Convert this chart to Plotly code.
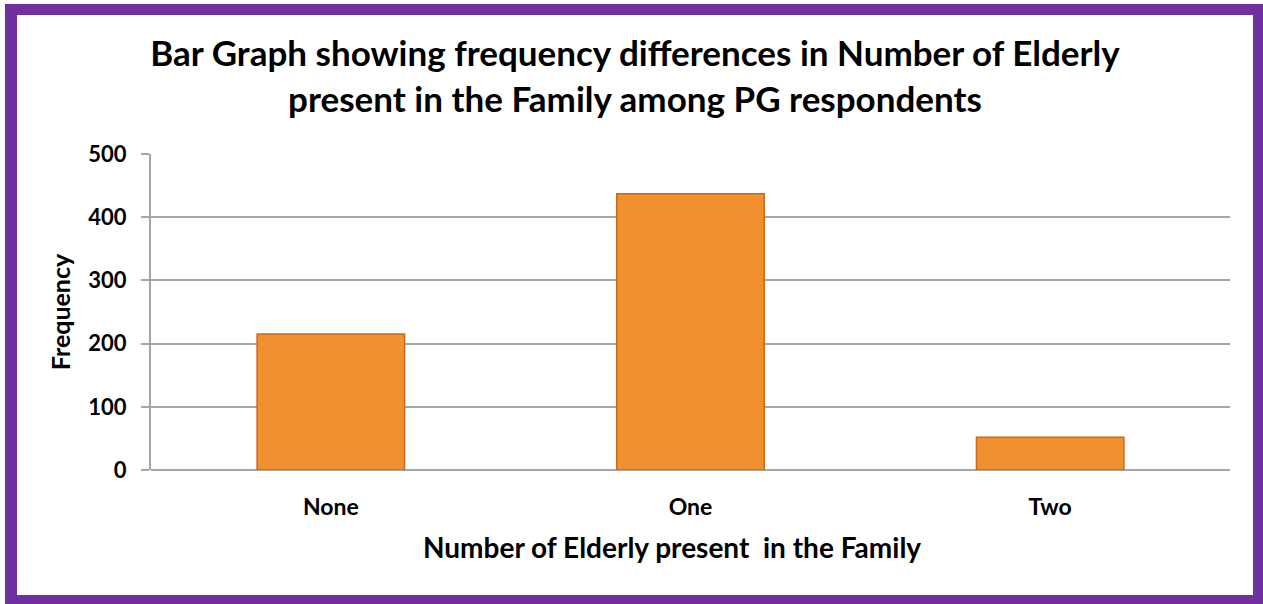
import plotly.graph_objects as go

categories = ["None", "One", "Two"]
frequency = [215, 437, 52]
y_ticks = [0, 100, 200, 300, 400, 500]

W, H = 1263, 604
ML, MR, MT, MB = 151, 33, 154, 134
PW, PH = W - ML - MR, H - MT - MB


def px_x(x):
    return (x - ML) / PW


def px_y(y):
    return (H - MB - y) / PH


fig = go.Figure()
fig.add_trace(go.Bar(
    x=categories,
    y=frequency,
    width=0.41,
    marker=dict(color="#F0902E", line=dict(color="#C8691B", width=1.5)),
    hoverinfo="x+y",
))

# purple frame around the whole chart
fig.add_shape(type="rect", xref="paper", yref="paper", layer="below",
              x0=px_x(5), x1=px_x(1263), y0=px_y(604), y1=px_y(4),
              fillcolor="#7030A0", line=dict(width=0))
fig.add_shape(type="rect", xref="paper", yref="paper", layer="below",
              x0=px_x(17), x1=px_x(1253), y0=px_y(595), y1=px_y(15),
              fillcolor="white", line=dict(width=0))

title_font = "Lato, Calibri, 'Open Sans', sans-serif"

# x-axis title, set slightly left of the plot centre
fig.add_annotation(
    text="<b>Number of Elderly present  in the Family</b>",
    xref="paper", yref="paper", x=px_x(672), y=px_y(547),
    xanchor="center", yanchor="middle", showarrow=False,
    font=dict(family=title_font, size=28, color="black"),
)

fig.update_layout(
    width=W, height=H,
    margin=dict(l=ML, r=MR, t=MT, b=MB),
    paper_bgcolor="white",
    plot_bgcolor="rgba(0,0,0,0)",
    showlegend=False,
    title=dict(
        text="<b>Bar Graph showing frequency differences in Number of Elderly<br>present in the Family among PG respondents</b>",
        x=635 / W, xref="container", xanchor="center",
        y=1 - 66 / H, yref="container", yanchor="top",
        font=dict(family=title_font, size=35, color="black"),
    ),
    bargap=0.5,
)

fig.update_xaxes(
    showgrid=False,
    showline=False,
    ticks="",
    tickfont=dict(family=title_font, size=23, color="black", weight="bold"),
    ticklabelstandoff=21,
)

fig.update_yaxes(
    range=[0, 500],
    tickvals=y_ticks,
    showgrid=True, gridcolor="#A6A6A6", gridwidth=2,
    showline=True, linecolor="#A6A6A6", linewidth=2,
    zeroline=True, zerolinecolor="#A6A6A6", zerolinewidth=2,
    ticks="outside", ticklen=8, tickcolor="#A6A6A6", tickwidth=2,
    tickfont=dict(family=title_font, size=22, color="black", weight="bold"),
    ticklabelstandoff=10,
    title=dict(text="<b>Frequency</b>",
               font=dict(family=title_font, size=25, color="black"), standoff=11),
)

fig.write_html("out.html")
